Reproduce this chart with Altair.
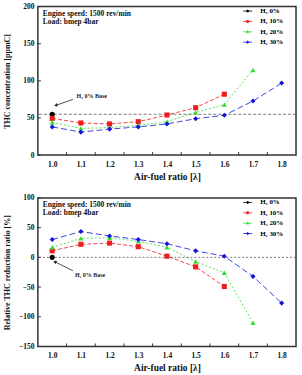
import altair as alt
import pandas as pd

# ---------------- data ----------------
lam = [1.0, 1.1, 1.2, 1.3, 1.4, 1.5, 1.6, 1.7, 1.8]
series_labels = ["H\u2082  0%", "H\u2082  10%", "H\u2082  20%", "H\u2082  30%"]

thc_0 = [55]
thc_10 = [49.5, 43.3, 42, 45, 54, 63.8, 82]
thc_20 = [44, 36, 37, 40, 45, 57.5, 68, 114.7]
thc_30 = [38, 31, 35, 38, 42, 49, 53.6, 72.8, 97]

red_0 = [0]
red_10 = [11, 22, 24, 18, 2, -16, -49]
red_20 = [17, 32, 33, 27, 17, -7, -26, -110]
red_30 = [30, 43.5, 36, 30, 23, 11, 2, -32, -77]

thc_ticks = [0, 50, 100, 150, 200]
red_ticks = [-150, -100, -50, 0, 50, 100]
x_minor = [1.05, 1.15, 1.25, 1.35, 1.45, 1.55, 1.65, 1.75]

header_line1 = "Engine speed: 1500 rev/min"
header_line2 = "Load: bmep 4bar"
base_note = "H\u2082 0% Base"
thc_base = 55
red_base = 0
# annotation: [tail, tip] positions and text anchor (data units)
thc_arrow_x = [1.072, 1.0125]
thc_arrow_y = [75, 67]
thc_note_xy = [1.085, 79]
red_arrow_x = [1.072, 1.009]
red_arrow_y = [-22.5, -7.4]
red_note_xy = [1.079, -29]

colors = ["#000000", "#ee1c1c", "#33dd33", "#1414dd"]
shapes = ["circle", "square", "triangle-up", "diamond"]
dashes = [[1, 0], [4, 2], [2, 2], [6, 3]]
legend_paths = [
    "M-1.5,0H1.5M0.34,0A0.34,0.34 0 1,1 -0.34,0A0.34,0.34 0 1,1 0.34,0Z",
    "M-1.5,0H1.5M-0.32,-0.32H0.32V0.32H-0.32Z",
    "M-1.5,0H1.5M0,-0.4L0.37,0.3L-0.37,0.3Z",
    "M-1.5,0H1.5M0,-0.4L0.4,0L0,0.4L-0.4,0Z",
]

FONT = "Liberation Serif"
W, H = 259, 149


def long_df(lists):
    rows = []
    for lab, vals in zip(series_labels, lists):
        for xv, yv in zip(lam, vals):
            rows.append({"lam": xv, "val": yv, "series": lab})
    return pd.DataFrame(rows)


def panel(lists, ydom, yticks, ytitle, base_y, ax, ay, note_xy, arrow_angle, ref_dash):
    df = long_df(lists)
    xs = alt.Scale(domain=[0.95, 1.85], nice=False, zero=False)
    ys = alt.Scale(domain=ydom, nice=False, zero=False)
    xaxis = alt.Axis(
        values=lam, format=".1f", tickSize=0, labelPadding=5, domain=False,
        title="Air-fuel ratio [\u03bb]", titleY=21, titleBaseline="middle",
        titleFontSize=9.5, labelFontSize=7.5)
    yaxis = alt.Axis(
        values=yticks, tickSize=0, labelPadding=4, domain=False,
        title=ytitle, titleX=-30, titleY=H / 2, titleBaseline="middle",
        titleFontSize=8, labelFontSize=7.5)
    cscale = alt.Scale(domain=series_labels, range=colors)

    def X(f):
        return alt.X(f, scale=xs, axis=xaxis)

    def Y(f):
        return alt.Y(f, scale=ys, axis=yaxis)

    lines = alt.Chart(df).mark_line(strokeWidth=0.8).encode(
        x=X("lam:Q"), y=Y("val:Q"),
        color=alt.Color("series:N", scale=cscale, legend=None),
        strokeDash=alt.StrokeDash("series:N", scale=alt.Scale(domain=series_labels, range=dashes), legend=None),
    )
    ref = alt.Chart(pd.DataFrame({"val": [base_y]})).mark_rule(
        color="#555", strokeWidth=0.8, strokeDash=ref_dash).encode(y=Y("val:Q"))

    pts = alt.Chart(df).mark_point(filled=True, size=26, opacity=1).encode(
        x=X("lam:Q"), y=Y("val:Q"),
        color=alt.Color("series:N", scale=cscale, legend=None),
        shape=alt.Shape("series:N", scale=alt.Scale(domain=series_labels, range=shapes), legend=None),
    )

    leg = alt.Legend(title=None, orient="none", legendX=207, legendY=1, padding=0,
                     symbolSize=36, symbolStrokeWidth=0.8, labelOffset=9,
                     labelFont=FONT, labelFontWeight="bold", labelFontSize=7,
                     rowPadding=2.4, symbolOpacity=1)
    legend_layer = alt.Chart(df).transform_calculate(
        leg="datum.series").mark_point(filled=True, strokeWidth=0.8, size=1, opacity=0.01).encode(
        x=X("lam:Q"), y=Y("val:Q"),
        fill=alt.Fill("leg:N", scale=alt.Scale(domain=series_labels, range=colors), legend=leg),
        stroke=alt.Stroke("leg:N", scale=alt.Scale(domain=series_labels, range=colors), legend=leg),
        shape=alt.Shape("leg:N", scale=alt.Scale(domain=series_labels, range=legend_paths), legend=leg),
    )

    xt = alt.Chart(pd.DataFrame({"lam": x_minor})).mark_rule(color="#333", strokeWidth=1).encode(
        x=X("lam:Q"), y=alt.value(H), y2=alt.value(H - 3))
    yt = alt.Chart(pd.DataFrame({"val": yticks})).mark_rule(color="#333", strokeWidth=1).encode(
        y=Y("val:Q"), x=alt.value(0), x2=alt.value(3))

    hdr_df = pd.DataFrame({"t": [header_line1]})
    hdr1 = alt.Chart(hdr_df).mark_text(
        align="left", baseline="middle", font=FONT, fontWeight="bold", fontSize=7.5, color="#111",
        text=header_line1).encode(x=alt.value(5), y=alt.value(7))
    hdr2 = alt.Chart(hdr_df).mark_text(
        align="left", baseline="middle", font=FONT, fontWeight="bold", fontSize=7.5, color="#111",
        text=header_line2).encode(x=alt.value(5), y=alt.value(15.5))

    arrow = alt.Chart(pd.DataFrame({"lam": ax, "val": ay})).mark_line(
        color="#222", strokeWidth=0.8).encode(x=X("lam:Q"), y=Y("val:Q"))
    head = alt.Chart(pd.DataFrame({"lam": [ax[1]], "val": [ay[1]]})).mark_point(
        shape="triangle-up", filled=True, color="#222", size=14, angle=arrow_angle, opacity=1).encode(
        x=X("lam:Q"), y=Y("val:Q"))
    note = alt.Chart(pd.DataFrame({"lam": [note_xy[0]], "val": [note_xy[1]], "t": [base_note]})).mark_text(
        align="left", baseline="middle", font=FONT, fontWeight="bold", fontSize=6, color="#222").encode(
        x=X("lam:Q"), y=Y("val:Q"), text="t:N")

    return alt.layer(lines, ref, pts, legend_layer, xt, yt, hdr1, hdr2, arrow, head, note).resolve_scale(
        shape="independent", fill="independent", stroke="independent"
    ).resolve_legend(shape="independent", fill="independent", stroke="independent").properties(
        width=W, height=H)


top = panel([thc_0, thc_10, thc_20, thc_30], [0, 200], thc_ticks,
            "THC concentration [ppmC]", thc_base, thc_arrow_x, thc_arrow_y, thc_note_xy, 250, [3, 2])
bottom = panel([red_0, red_10, red_20, red_30], [-150, 100], red_ticks,
               "Relative THC reduction ratio [%]", red_base, red_arrow_x, red_arrow_y, red_note_xy, 297, [2, 2])

chart = alt.vconcat(top, bottom, spacing=11).resolve_scale(
    x="independent", y="independent", color="independent", fill="independent",
    stroke="independent", shape="independent", strokeDash="independent"
).resolve_legend(fill="independent", stroke="independent", shape="independent").configure(
    padding={"left": 3, "top": 1, "right": 4, "bottom": 1},
    background="white",
    font=FONT,
).configure_axis(
    labelFont=FONT, titleFont=FONT, labelFontWeight="bold", titleFontWeight="bold",
    labelColor="#111", titleColor="#111", grid=False,
).configure_view(stroke="#333", strokeWidth=1.5)

chart.save("out.html", embed_options={"renderer": "svg", "actions": False})
